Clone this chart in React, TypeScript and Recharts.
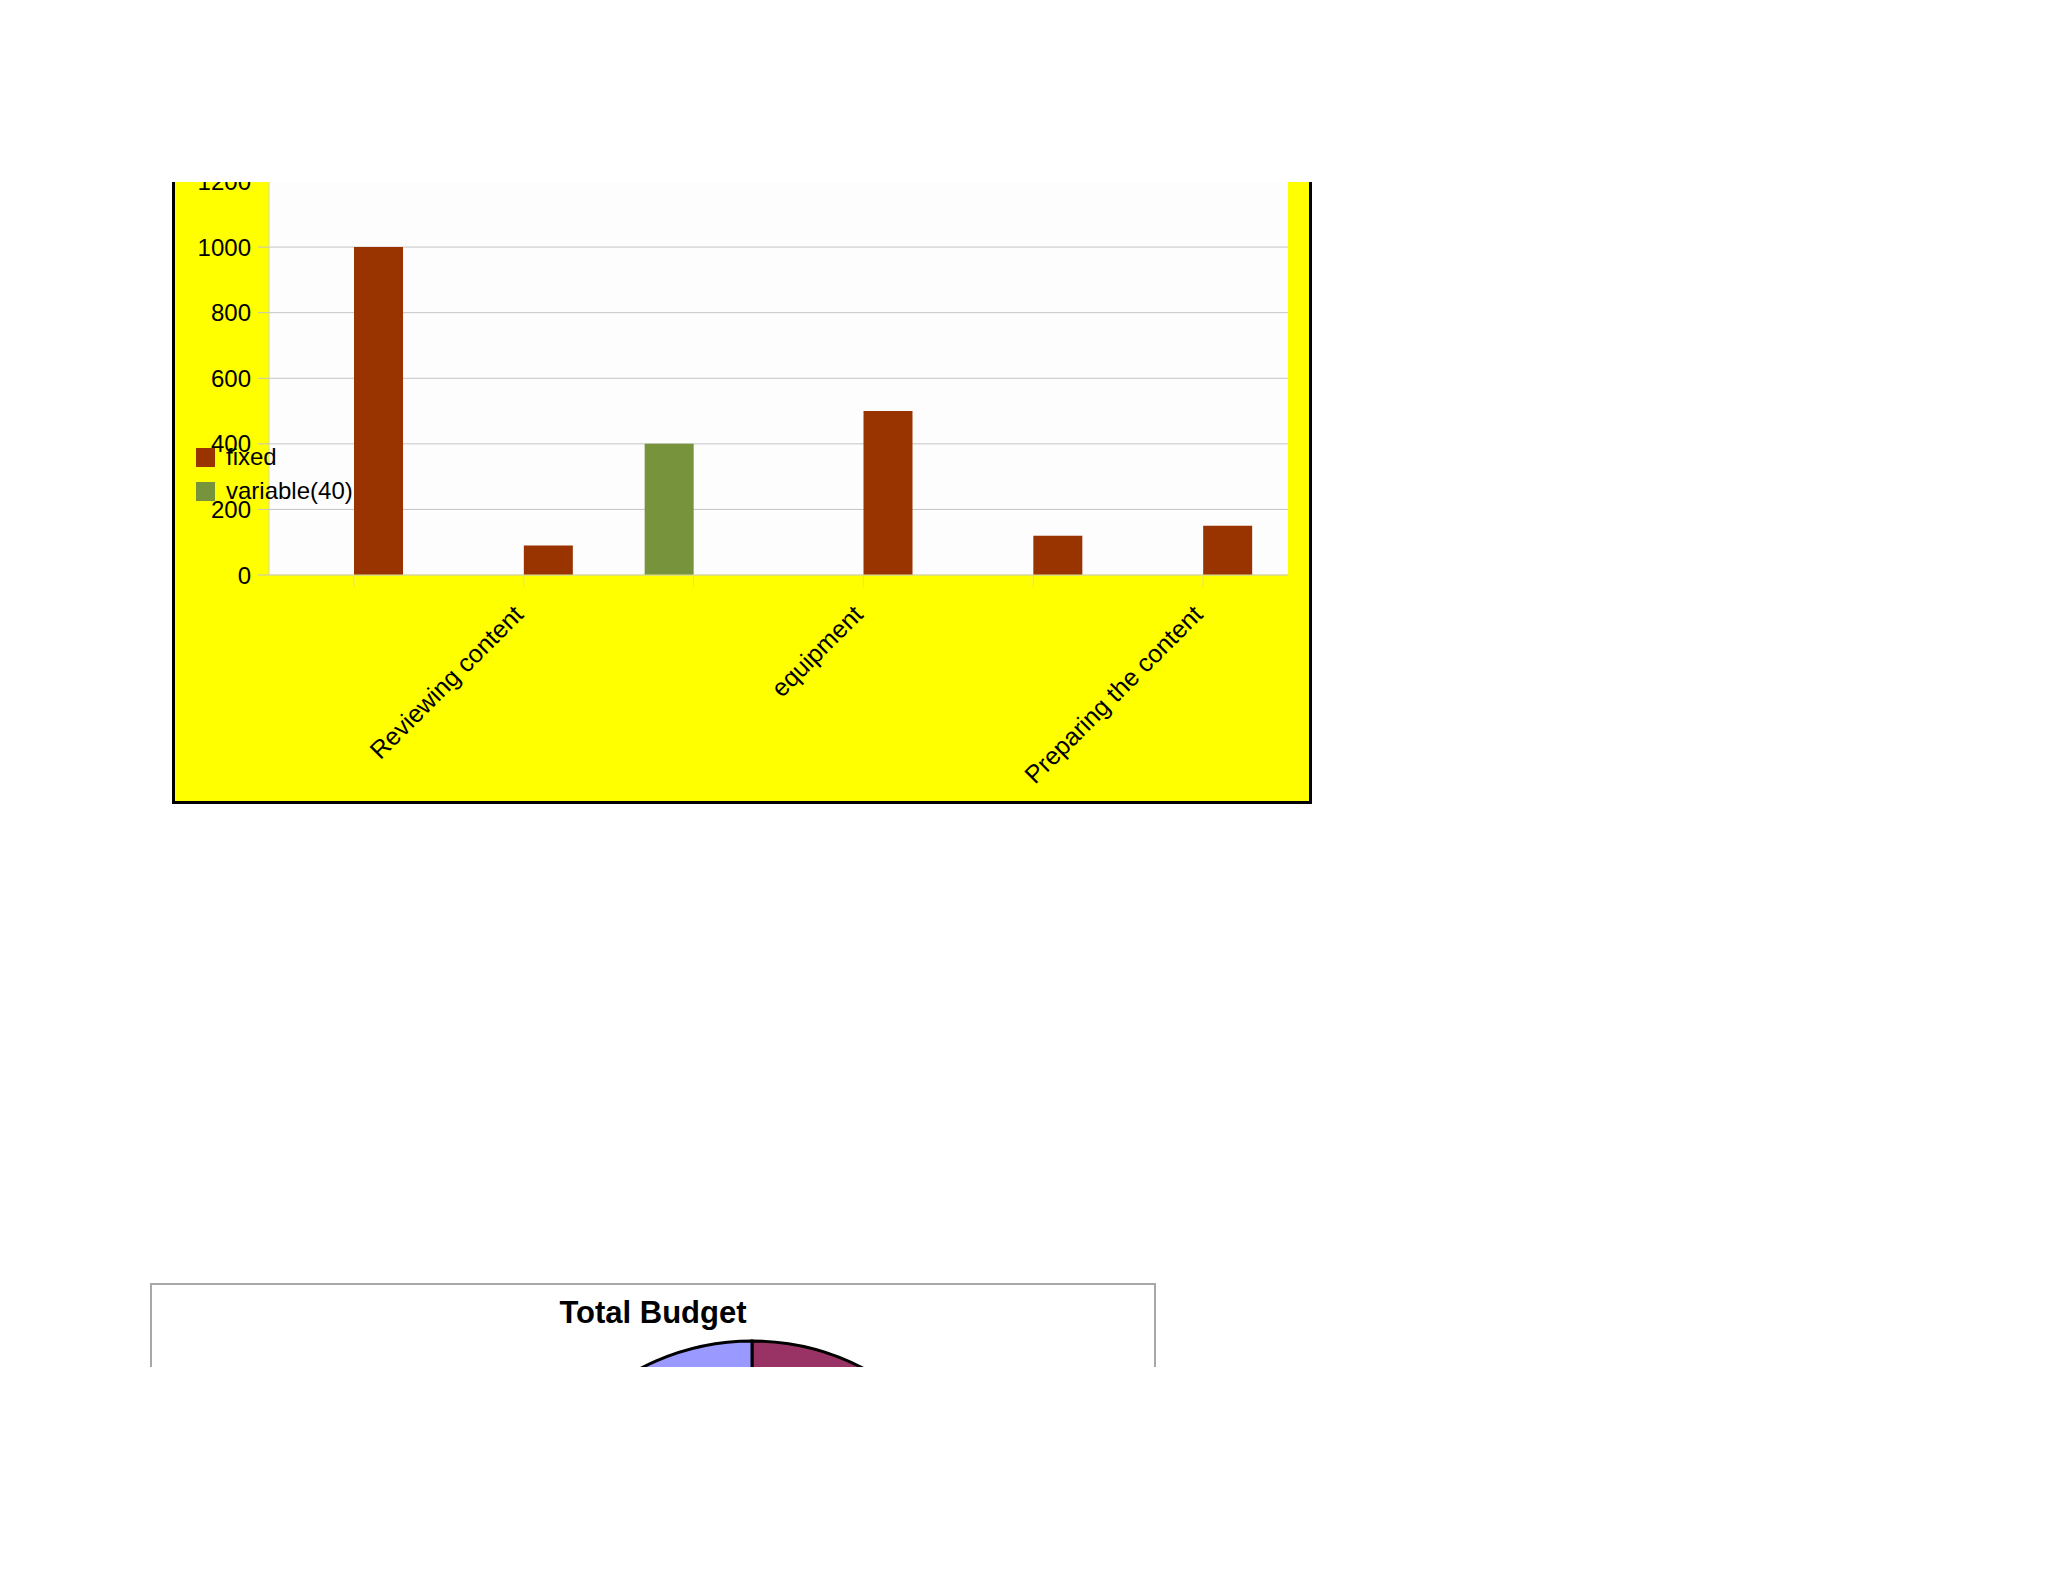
import { Bar, BarChart, CartesianGrid, XAxis, YAxis, Legend, Pie, PieChart, Cell } from 'recharts';

const categories = ['', 'Reviewing content', '', 'equipment', '', 'Preparing the content'];
const fixedValues = [1000, 90, 0, 500, 120, 150];
const variableValues = [0, 0, 400, 0, 0, 0];
const yTicks = [0, 200, 400, 600, 800, 1000, 1200];

const pieNames = ['variable', 'fixed'];
const pieValues = [400, 1860];
const pieColors = ['#993366', '#9999ff'];

const FONT = '"Liberation Sans", Arial, sans-serif';

const barData = categories.map((name, i) => ({
  name,
  fixed: fixedValues[i],
  variable: variableValues[i],
}));

const pieData = pieNames.map((name, i) => ({ name, value: pieValues[i] }));

const CategoryTick = (props: any) => {
  const { x, y, payload } = props;
  if (!payload || !payload.value) return <g />;
  return (
    <g transform={`translate(${x + 1},${y + 4})`}>
      <text x={0} y={0} textAnchor="end" transform="rotate(-45)" fontSize={25} fill="#000" fontFamily={FONT}>
        {payload.value}
      </text>
    </g>
  );
};

const LegendBox = (props: any) => {
  const items = [...(props.payload || [])].sort((a: any, b: any) => (a.value === 'fixed' ? -1 : b.value === 'fixed' ? 1 : 0));
  return (
    <div style={{ fontFamily: FONT, fontSize: 24, color: '#000' }}>
      {items.map((item: any) => (
        <div key={item.value} style={{ display: 'flex', alignItems: 'center', height: 34, lineHeight: '34px' }}>
          <span style={{ display: 'inline-block', width: 19, height: 19, background: item.color, marginRight: 11 }} />
          <span>{item.value}</span>
        </div>
      ))}
    </div>
  );
};

export default function App() {
  return (
    <div
      style={{
        position: 'absolute',
        left: 0,
        top: 0,
        width: 2048,
        height: 1582,
        overflow: 'hidden',
        background: '#ffffff',
        fontFamily: FONT,
      }}
    >
      {/* bar chart, top part cut off */}
      <div style={{ position: 'absolute', left: 0, top: 182, width: 2048, height: 700, overflow: 'hidden' }}>
        <div
          style={{
            position: 'absolute',
            left: 172,
            top: -30,
            width: 1134,
            height: 649,
            background: '#ffff00',
            borderLeft: '3px solid #000',
            borderRight: '3px solid #000',
            borderBottom: '3px solid #000',
          }}
        >
          <BarChart
            width={1134}
            height={649}
            data={barData}
            margin={{ top: 29.5, right: 21, left: 0, bottom: 0 }}
            barSize={49}
            barGap={0}
          >
            <CartesianGrid vertical={false} stroke="#c4c4c4" fill="#fdfdfd" />
            <XAxis
              dataKey="name"
              interval={0}
              height={226}
              tickSize={12}
              tickMargin={25}
              axisLine={{ stroke: '#dede8a' }}
              tickLine={{ stroke: '#dede8a' }}
              tick={<CategoryTick />}
            />
            <YAxis
              width={94}
              domain={[0, 1200]}
              ticks={yTicks}
              interval={0}
              tickSize={11}
              tickMargin={7}
              axisLine={{ stroke: '#d8d88a' }}
              tickLine={{ stroke: '#c4c4c4' }}
              tick={{ fontSize: 24, fill: '#000', fontFamily: FONT }}
            />
            <Legend
              layout="vertical"
              align="center"
              verticalAlign="middle"
              wrapperStyle={{ left: 21, top: 288, width: 'auto' }}
              content={<LegendBox />}
            />
            <Bar dataKey="variable" name="variable(40)" fill="#77933c" isAnimationActive={false} />
            <Bar dataKey="fixed" name="fixed" fill="#993300" isAnimationActive={false} />
          </BarChart>
        </div>
      </div>

      {/* pie chart, bottom part cut off */}
      <div style={{ position: 'absolute', left: 0, top: 0, width: 2048, height: 1367, overflow: 'hidden' }}>
        <div
          style={{
            position: 'absolute',
            left: 150,
            top: 1283,
            width: 1002,
            height: 600,
            border: '2px solid #a8a8a8',
            background: '#ffffff',
          }}
        >
          <div
            style={{
              position: 'absolute',
              left: 0,
              top: 12,
              width: '100%',
              textAlign: 'center',
              fontWeight: 'bold',
              fontSize: 31,
              lineHeight: '31px',
              color: '#000',
            }}
          >
            Total Budget
          </div>
          <div style={{ position: 'absolute', left: 0, top: 0 }}>
            <PieChart width={1002} height={600}>
              <Pie
                data={pieData}
                dataKey="value"
                nameKey="name"
                cx={595}
                cy={291}
                outerRadius={240}
                startAngle={90}
                endAngle={-270}
                stroke="#000"
                strokeWidth={3}
                isAnimationActive={false}
              >
                {pieData.map((d, i) => (
                  <Cell key={d.name} fill={pieColors[i]} />
                ))}
              </Pie>
            </PieChart>
          </div>
        </div>
      </div>
    </div>
  );
}
